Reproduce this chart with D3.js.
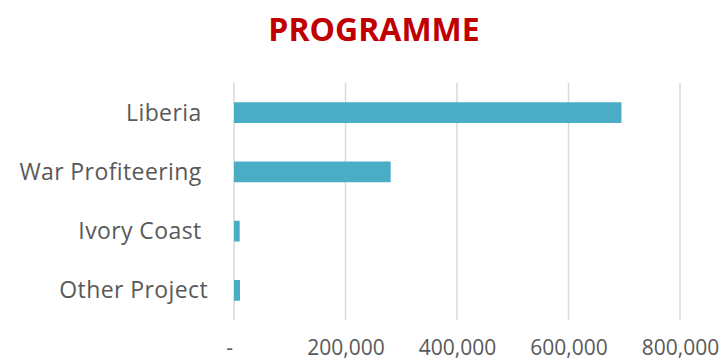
<!DOCTYPE html>
<html>
<head>
<meta charset="utf-8">
<script src="https://cdn.jsdelivr.net/npm/d3@7"></script>
<style>
  html, body { margin: 0; padding: 0; background: #fff; }
  svg { display: block; }
</style>
</head>
<body>
<svg id="chart" width="725" height="361"></svg>
<script>
const title = "PROGRAMME";
const categories = ["Liberia ", "War Profiteering ", "Ivory Coast ", "Other Project"];
const values = [695000, 281000, 10200, 10800];
const tickValues = [0, 200000, 400000, 600000, 800000];

const svg = d3.select("#chart");
const margin = { left: 234, right: 45, top: 83, bottom: 41 };
const W = 725, H = 361;

const x = d3.scaleLinear().domain([0, 800000]).range([margin.left, W - margin.right]);
const y = d3.scaleBand().domain(categories).range([margin.top, H - margin.bottom]).paddingInner(0.65).paddingOuter(0.325);

// title
svg.append("text")
  .attr("x", 374).attr("y", 41)
  .attr("text-anchor", "middle")
  .attr("font-family", "Open Sans")
  .attr("font-weight", "bold")
  .attr("font-size", 32)
  .attr("fill", "#C00000")
  .text(title);

// gridlines
svg.append("g").selectAll("line").data(tickValues).join("line")
  .attr("x1", d => x(d)).attr("x2", d => x(d))
  .attr("y1", margin.top).attr("y2", H - margin.bottom)
  .attr("stroke", "#d9d9d9").attr("stroke-width", 1.5);

// bars
svg.append("g").selectAll("rect").data(values).join("rect")
  .attr("x", x(0))
  .attr("y", (d, i) => y(categories[i]))
  .attr("width", d => x(d) - x(0))
  .attr("height", y.bandwidth())
  .attr("fill", "#4BACC6");

// x axis
const xAxis = d3.axisBottom(x).tickValues(tickValues)
  .tickFormat(d => d === 0 ? "-" : d3.format(",")(d))
  .tickSize(0).tickPadding(0);
const gx = svg.append("g").attr("transform", `translate(0, ${H - margin.bottom})`).call(xAxis);
gx.select(".domain").remove();
gx.selectAll("text")
  .attr("font-family", "Open Sans")
  .attr("font-size", 21)
  .attr("fill", "#595959")
  .attr("dy", null)
  .attr("y", 35)
  .attr("dx", d => d === 0 ? -5 : 0);

// y axis
const yAxis = d3.axisLeft(y).tickSize(0).tickPadding(0);
const gy = svg.append("g").attr("transform", `translate(208, 0)`).call(yAxis);
gy.select(".domain").remove();
gy.selectAll("text")
  .attr("font-family", "Open Sans")
  .attr("font-size", 23)
  .attr("letter-spacing", 0.4)
  .attr("fill", "#595959")
  .style("white-space", "pre")
  .attr("dy", "0.35em");
</script>
</body>
</html>
